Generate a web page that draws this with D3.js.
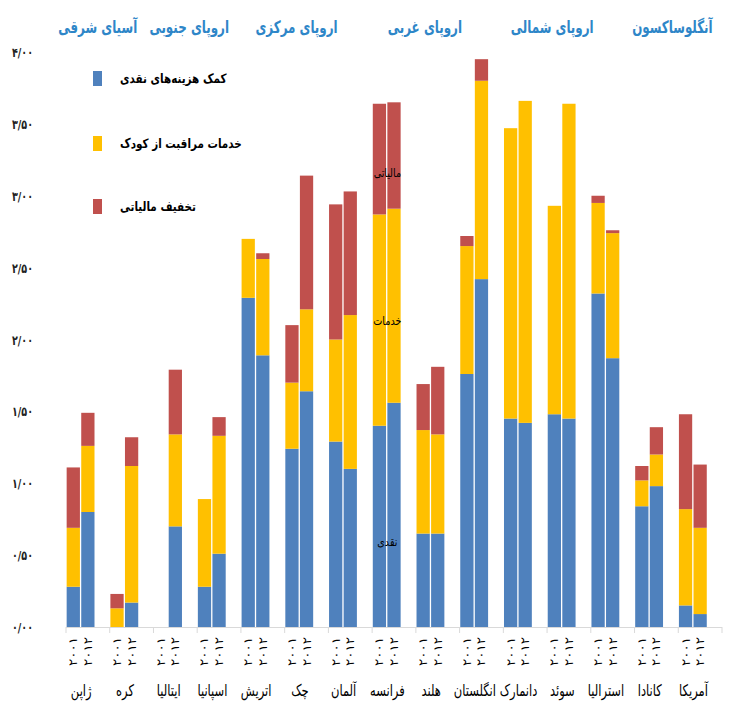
<!DOCTYPE html>
<html>
<head>
<meta charset="utf-8">
<script src="https://cdn.jsdelivr.net/npm/d3@7"></script>
<style>
  body { margin: 0; background: white; }
  svg text { font-family: "DejaVu Sans", sans-serif; }
</style>
</head>
<body>
<div id="viz"></div>
<script>
// countries (left to right) and the two years
var countries = ['ژاپن', 'کره', 'ایتالیا', 'اسپانیا', 'اتریش', 'چک', 'آلمان', 'فرانسه', 'هلند', 'انگلستان', 'دانمارک', 'سوئد', 'استرالیا', 'کانادا', 'آمریکا'];
var years = ['۲۰۰۱', '۲۰۱۲'];

// series values, per cent of GDP (null = no data)
var cash2001     = [0.28, 0.00, null, 0.28, 2.29, 1.24, 1.29, 1.40, 0.65, 1.76, 1.45, 1.48, 2.32, 0.84, 0.15];
var services2001 = [0.41, 0.13, null, 0.61, 0.41, 0.46, 0.71, 1.47, 0.72, 0.89, 2.02, 1.45, 0.63, 0.18, 0.67];
var tax2001      = [0.42, 0.10, null, 0.00, 0.00, 0.40, 0.94, 0.77, 0.32, 0.07, 0.00, 0.00, 0.05, 0.10, 0.66];
var cash2012     = [0.80, 0.17, 0.70, 0.51, 1.89, 1.64, 1.10, 1.56, 0.65, 2.42, 1.42, 1.45, 1.87, 0.98, 0.09];
var services2012 = [0.46, 0.95, 0.64, 0.82, 0.67, 0.57, 1.07, 1.35, 0.69, 1.38, 2.24, 2.19, 0.87, 0.22, 0.60];
var tax2012      = [0.23, 0.20, 0.45, 0.13, 0.04, 0.93, 0.86, 0.74, 0.47, 0.15, 0.00, 0.00, 0.02, 0.19, 0.44];

var seriesNames = ['کمک هزینه‌های نقدی', 'خدمات مراقبت از کودک', 'تخفیف مالیاتی'];
var seriesColors = ['#4F81BD', '#FFC000', '#C0504D'];

var yTicks = [0, 0.5, 1, 1.5, 2, 2.5, 3, 3.5, 4];

// region headers: name, first country, last country
var regionNames = ['آسیای شرقی', 'اروپای جنوبی', 'اروپای مرکزی', 'اروپای غربی', 'اروپای شمالی', 'آنگلوساکسون'];
var regionFirst = ['ژاپن', 'ایتالیا', 'اتریش', 'فرانسه', 'انگلستان', 'استرالیا'];
var regionLast  = ['کره', 'اسپانیا', 'آلمان', 'هلند', 'سوئد', 'آمریکا'];

// stray in-plot labels over the France bars
var noteTexts  = ['مالیاتی', 'خدمات', 'نقدی'];
var noteValues = [3.16, 2.13, 0.59];

var W = 730, H = 704;
var svg = d3.select('#viz').append('svg')
    .attr('width', W)
    .attr('height', H);

// scales
var x = d3.scaleBand().domain(countries).range([66, 722]).padding(0);
// three slots per country: two years and an empty one
var slot = d3.scaleBand().domain([0, 1, 2]).range([0, x.bandwidth()]).paddingInner(0.09).paddingOuter(0.045);
var y = d3.scaleLinear().domain([0, 4]).range([627, 52]);

function toFa(s) {
  var fa = '۰۱۲۳۴۵۶۷۸۹';
  return s.replace(/[0-9]/g, function(c) { return fa[+c]; }).replace('.', '/');
}

// narrow text: the original uses a condensed face
function narrowText(px, py, sx, txt) {
  return svg.append('g')
    .attr('transform', 'translate(' + px + ',' + py + ') scale(' + sx + ',1)')
    .append('text')
    .text(txt);
}

// build stacked rows
var rows = [];
var byYear = [[cash2001, services2001, tax2001], [cash2012, services2012, tax2012]];
countries.forEach(function(c, i) {
  for (var k = 0; k < 2; k++) {
    if (byYear[k][0][i] == null) continue;
    var base = 0;
    for (var s = 0; s < 3; s++) {
      var v = byYear[k][s][i];
      rows.push({country: c, year: k, series: s, y0: base, y1: base + v});
      base += v;
    }
  }
});

// bars
svg.append('g').selectAll('rect')
    .data(rows.filter(function(d) { return d.y1 > d.y0; }))
    .enter().append('rect')
    .attr('x', function(d) { return x(d.country) + slot(d.year); })
    .attr('width', slot.bandwidth())
    .attr('y', function(d) { return y(d.y1); })
    .attr('height', function(d) { return y(d.y0) - y(d.y1); })
    .attr('fill', function(d) { return seriesColors[d.series]; });

// x axis line and group separators
svg.append('line')
    .attr('x1', x.range()[0]).attr('x2', x.range()[1])
    .attr('y1', y(0) + 0.5).attr('y2', y(0) + 0.5)
    .attr('stroke', '#D9D9D9');
svg.append('g').selectAll('line')
    .data(countries.concat(['end']))
    .enter().append('line')
    .attr('x1', function(d) { return d == 'end' ? x.range()[1] : x(d); })
    .attr('x2', function(d) { return d == 'end' ? x.range()[1] : x(d); })
    .attr('y1', y(0))
    .attr('y2', y(0) + 6)
    .attr('stroke', '#D9D9D9');

// year labels (rotated)
countries.forEach(function(c) {
  years.forEach(function(yr, k) {
    var cx = x(c) + slot(k) + slot.bandwidth() / 2;
    svg.append('text')
      .attr('transform', 'translate(' + (cx + 4) + ',' + 637 + ') rotate(-90)')
      .attr('text-anchor', 'end')
      .attr('textLength', 29)
      .attr('lengthAdjust', 'spacingAndGlyphs')
      .style('font-size', '12px')
      .attr('fill', '#000')
      .text(yr);
  });
});

// country labels
countries.forEach(function(c) {
  narrowText(x(c) + slot(1), 696, 0.72, c)
    .attr('text-anchor', 'middle')
    .style('font-size', '16px')
    .attr('fill', '#000');
});

// y tick labels
svg.append('g').selectAll('text')
    .data(yTicks)
    .enter().append('text')
    .attr('x', 33)
    .attr('y', function(d) { return y(d) + 5; })
    .attr('text-anchor', 'end')
    .attr('textLength', 21)
    .attr('lengthAdjust', 'spacingAndGlyphs')
    .style('font-size', '13px')
    .style('font-weight', 'bold')
    .attr('fill', '#222')
    .text(function(d) { return toFa(d3.format('.2f')(d)); });

// region headers
var regionNudge = [-12, -8, -10, 9, 27, 16];
regionNames.forEach(function(r, i) {
  var cx = (x(regionFirst[i]) + x(regionLast[i]) + x.bandwidth()) / 2;
  narrowText(cx + regionNudge[i], 33, 0.7, r)
    .attr('text-anchor', 'middle')
    .style('font-size', '17px')
    .style('font-weight', 'bold')
    .attr('fill', '#2E86C8');
});

// legend
var legendY = [78, 143, 206];
seriesNames.forEach(function(n, i) {
  svg.append('rect')
    .attr('x', 93)
    .attr('y', legendY[i] - 7)
    .attr('width', 9)
    .attr('height', 15)
    .attr('fill', seriesColors[i]);
  narrowText(120, legendY[i] + 5, 0.8, n)
    .style('font-size', '13px')
    .style('font-weight', 'bold')
    .attr('fill', '#000');
});

// notes over France
noteTexts.forEach(function(t, i) {
  narrowText(x('فرانسه') + slot(1), y(noteValues[i]) + 4, 0.8, t)
    .attr('text-anchor', 'middle')
    .style('font-size', '12px')
    .attr('fill', '#000');
});
</script>
</body>
</html>
